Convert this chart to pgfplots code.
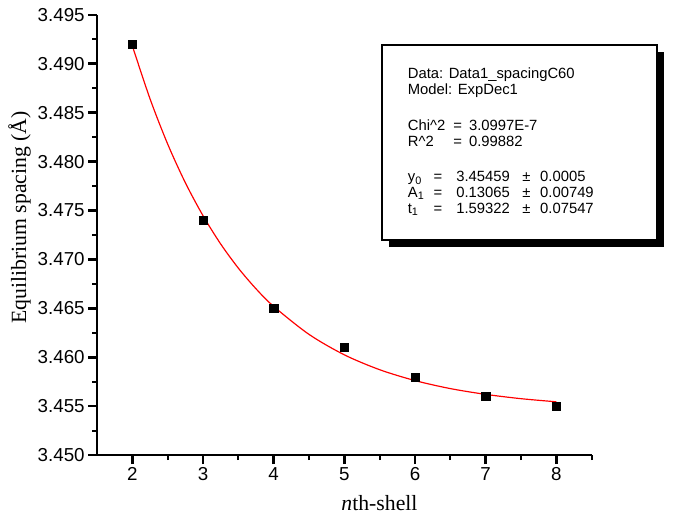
\documentclass[border=0pt]{standalone}
\usepackage{fontspec}
\setmainfont{Liberation Serif}
\newfontfamily\arialfont{Liberation Sans}
\usepackage{pgfplots}
\pgfplotsset{compat=1.18}

\begin{document}
\begin{tikzpicture}
\begin{axis}[
    scale only axis,
    width=501pt, height=446pt,
    xmin=1.5, xmax=8.5,
    ymin=3.450, ymax=3.495,
    axis x line*=bottom,
    axis y line*=left,
    axis line style={-, line width=2.5pt},
    clip=false,
    xtick={2,3,...,8},
    minor xtick={2.5,3.5,...,8.5},
    ytick={3.450,3.455,...,3.4951},
    minor ytick={3.4525,3.4575,...,3.4951},
    tick align=outside,
    major tick length=9pt,
    minor tick length=5pt,
    every tick/.style={black, line width=2.5pt},
    every minor tick/.style={black, line width=2.2pt},
    tick label style={font=\arialfont\fontsize{19}{19}\selectfont},
    /pgf/number format/assume math mode=true,
    yticklabel style={/pgf/number format/fixed,
        /pgf/number format/fixed zerofill,
        /pgf/number format/precision=3},
    xlabel={\textit{n}th-shell},
    ylabel={Equilibrium spacing (Å)},
    label style={font=\fontsize{22}{22}\selectfont},
    xlabel style={at={(ticklabel cs:0.571)}, yshift=-8pt},
    ylabel style={at={(ticklabel cs:0.54)}},
]
% ExpDec1 fit
\addplot[red, line width=1.2pt, smooth, mark=none] coordinates {
    (2,3.49183) (2.25,3.48642) (2.5,3.48179) (2.75,3.47784) (3,3.47447)
    (3.25,3.47158) (3.5,3.46911) (3.75,3.46700) (4,3.46520) (4.5,3.46234)
    (5,3.46025) (5.5,3.45873) (6,3.45762) (6.5,3.45680) (7,3.45621)
    (7.5,3.45577) (8,3.45545)
};
\addplot[only marks, mark=square*, mark size=4.2pt, black] coordinates {
    (2,3.492) (3,3.474) (4,3.465) (5,3.461) (6,3.458) (7,3.456) (8,3.455)
};
\coordinate (boxNW) at (axis cs:5.533,3.49187);
\coordinate (boxSE) at (axis cs:9.424,3.47200);
\path (axis cs:0.1274,3.44354) rectangle (axis cs:9.877,3.49651);
\end{axis}

\fill[black] ([shift={(7pt,-7pt)}]boxNW) rectangle ([shift={(7pt,-7pt)}]boxSE);
\draw[line width=2pt, fill=white] (boxNW) rectangle (boxSE);
\begin{scope}[shift={(boxNW)}, every node/.style={anchor=base west, inner sep=0pt,
    font=\arialfont\fontsize{15}{15}\selectfont}]
\node at (26pt,-34pt) {Data: Data1\_spacingC60};
\node at (26pt,-50pt) {Model: ExpDec1};
\node at (26pt,-86pt) {Chi\textasciicircum 2};
\node at (72pt,-86pt) {=};
\node at (88pt,-86pt) {3.0997E-7};
\node at (26pt,-102pt) {R\textasciicircum 2};
\node at (72pt,-102pt) {=};
\node at (88pt,-102pt) {0.99882};
\node at (26pt,-138pt) {y\raisebox{-2.5pt}{\fontsize{11}{11}\selectfont 0}};
\node at (52pt,-138pt) {=};
\node at (75pt,-138pt) {3.45459};
\node at (142pt,-138pt) {±};
\node at (160pt,-138pt) {0.0005};
\node at (26pt,-154pt) {A\raisebox{-2.5pt}{\fontsize{11}{11}\selectfont 1}};
\node at (52pt,-154pt) {=};
\node at (75pt,-154pt) {0.13065};
\node at (142pt,-154pt) {±};
\node at (160pt,-154pt) {0.00749};
\node at (26pt,-170pt) {t\raisebox{-2.5pt}{\fontsize{11}{11}\selectfont 1}};
\node at (52pt,-170pt) {=};
\node at (75pt,-170pt) {1.59322};
\node at (142pt,-170pt) {±};
\node at (160pt,-170pt) {0.07547};
\end{scope}
\end{tikzpicture}
\end{document}
